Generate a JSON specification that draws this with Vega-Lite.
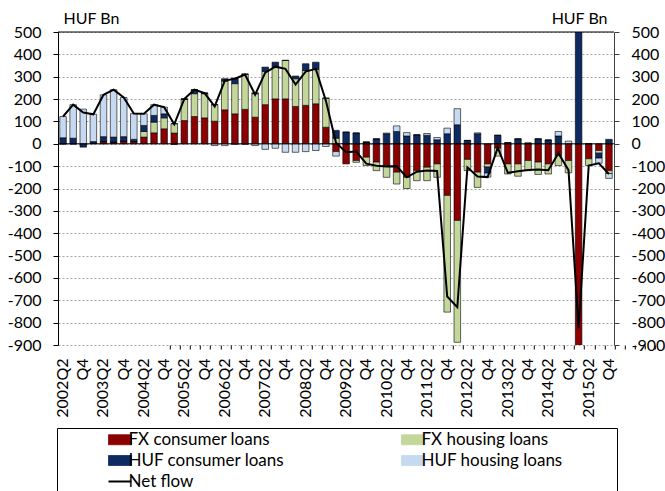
{
  "$schema": "https://vega.github.io/schema/vega-lite/v6.json",
  "width": 556,
  "height": 313,
  "autosize": {"type": "none"},
  "padding": {"left": 58, "top": 32, "right": 51, "bottom": 146},
  "config": {
    "view": {"stroke": null},
    "font": "Lato",
    "axis": {"labelFont": "Lato", "titleFont": "Lato", "labelColor": "#000", "titleColor": "#000"}
  },
  "datasets": {
    "flows": [
      {"q": "2002Q2", "FX consumer loans": 0, "FX housing loans": 0, "HUF consumer loans": 27, "HUF housing loans": 95, "net": 122},
      {"q": "2002Q3", "FX consumer loans": 0, "FX housing loans": 0, "HUF consumer loans": 25, "HUF housing loans": 150, "net": 175},
      {"q": "2002Q4", "FX consumer loans": 0, "FX housing loans": 0, "HUF consumer loans": -15, "HUF housing loans": 155, "net": 140},
      {"q": "2003Q1", "FX consumer loans": 3, "FX housing loans": 0, "HUF consumer loans": 7, "HUF housing loans": 122, "net": 132},
      {"q": "2003Q2", "FX consumer loans": 10, "FX housing loans": 0, "HUF consumer loans": 22, "HUF housing loans": 187, "net": 219},
      {"q": "2003Q3", "FX consumer loans": 8, "FX housing loans": 0, "HUF consumer loans": 22, "HUF housing loans": 212, "net": 242},
      {"q": "2003Q4", "FX consumer loans": 12, "FX housing loans": 0, "HUF consumer loans": 20, "HUF housing loans": 175, "net": 207},
      {"q": "2004Q1", "FX consumer loans": 10, "FX housing loans": 0, "HUF consumer loans": 10, "HUF housing loans": 115, "net": 135},
      {"q": "2004Q2", "FX consumer loans": 30, "FX housing loans": 25, "HUF consumer loans": 27, "HUF housing loans": 52, "net": 134},
      {"q": "2004Q3", "FX consumer loans": 49, "FX housing loans": 48, "HUF consumer loans": 30, "HUF housing loans": 48, "net": 175},
      {"q": "2004Q4", "FX consumer loans": 67, "FX housing loans": 49, "HUF consumer loans": 18, "HUF housing loans": 30, "net": 164},
      {"q": "2005Q1", "FX consumer loans": 48, "FX housing loans": 42, "HUF consumer loans": -3, "HUF housing loans": 0, "net": 87},
      {"q": "2005Q2", "FX consumer loans": 104, "FX housing loans": 94, "HUF consumer loans": 3, "HUF housing loans": 0, "net": 201},
      {"q": "2005Q3", "FX consumer loans": 122, "FX housing loans": 102, "HUF consumer loans": 18, "HUF housing loans": 0, "net": 242},
      {"q": "2005Q4", "FX consumer loans": 116, "FX housing loans": 108, "HUF consumer loans": 3, "HUF housing loans": 0, "net": 227},
      {"q": "2006Q1", "FX consumer loans": 101, "FX housing loans": 74, "HUF consumer loans": 0, "HUF housing loans": -8, "net": 167},
      {"q": "2006Q2", "FX consumer loans": 152, "FX housing loans": 128, "HUF consumer loans": 11, "HUF housing loans": -8, "net": 283},
      {"q": "2006Q3", "FX consumer loans": 134, "FX housing loans": 135, "HUF consumer loans": 25, "HUF housing loans": -3, "net": 291},
      {"q": "2006Q4", "FX consumer loans": 154, "FX housing loans": 156, "HUF consumer loans": 3, "HUF housing loans": -3, "net": 310},
      {"q": "2007Q1", "FX consumer loans": 119, "FX housing loans": 105, "HUF consumer loans": 4, "HUF housing loans": -8, "net": 220},
      {"q": "2007Q2", "FX consumer loans": 175, "FX housing loans": 149, "HUF consumer loans": 19, "HUF housing loans": -25, "net": 318},
      {"q": "2007Q3", "FX consumer loans": 201, "FX housing loans": 142, "HUF consumer loans": 22, "HUF housing loans": -20, "net": 345},
      {"q": "2007Q4", "FX consumer loans": 201, "FX housing loans": 172, "HUF consumer loans": 0, "HUF housing loans": -38, "net": 335},
      {"q": "2008Q1", "FX consumer loans": 167, "FX housing loans": 124, "HUF consumer loans": 12, "HUF housing loans": -38, "net": 265},
      {"q": "2008Q2", "FX consumer loans": 172, "FX housing loans": 156, "HUF consumer loans": 30, "HUF housing loans": -35, "net": 323},
      {"q": "2008Q3", "FX consumer loans": 179, "FX housing loans": 154, "HUF consumer loans": 32, "HUF housing loans": -30, "net": 335},
      {"q": "2008Q4", "FX consumer loans": 74, "FX housing loans": 130, "HUF consumer loans": 0, "HUF housing loans": -12, "net": 192},
      {"q": "2009Q1", "FX consumer loans": -35, "FX housing loans": 25, "HUF consumer loans": 35, "HUF housing loans": -20, "net": 5},
      {"q": "2009Q2", "FX consumer loans": -90, "FX housing loans": 0, "HUF consumer loans": 52, "HUF housing loans": 0, "net": -38},
      {"q": "2009Q3", "FX consumer loans": -75, "FX housing loans": -8, "HUF consumer loans": 48, "HUF housing loans": 0, "net": -35},
      {"q": "2009Q4", "FX consumer loans": -60, "FX housing loans": -37, "HUF consumer loans": 8, "HUF housing loans": 0, "net": -89},
      {"q": "2010Q1", "FX consumer loans": -82, "FX housing loans": -38, "HUF consumer loans": 22, "HUF housing loans": 0, "net": -98},
      {"q": "2010Q2", "FX consumer loans": -97, "FX housing loans": -53, "HUF consumer loans": 45, "HUF housing loans": 3, "net": -102},
      {"q": "2010Q3", "FX consumer loans": -127, "FX housing loans": -53, "HUF consumer loans": 55, "HUF housing loans": 25, "net": -100},
      {"q": "2010Q4", "FX consumer loans": -150, "FX housing loans": -50, "HUF consumer loans": 35, "HUF housing loans": 15, "net": -150},
      {"q": "2011Q1", "FX consumer loans": -120, "FX housing loans": -45, "HUF consumer loans": 40, "HUF housing loans": 0, "net": -125},
      {"q": "2011Q2", "FX consumer loans": -105, "FX housing loans": -60, "HUF consumer loans": 38, "HUF housing loans": 8, "net": -119},
      {"q": "2011Q3", "FX consumer loans": -90, "FX housing loans": -60, "HUF consumer loans": 18, "HUF housing loans": 10, "net": -122},
      {"q": "2011Q4", "FX consumer loans": -231, "FX housing loans": -522, "HUF consumer loans": 45, "HUF housing loans": 25, "net": -683},
      {"q": "2012Q1", "FX consumer loans": -343, "FX housing loans": -545, "HUF consumer loans": 85, "HUF housing loans": 72, "net": -731},
      {"q": "2012Q2", "FX consumer loans": -70, "FX housing loans": -50, "HUF consumer loans": 15, "HUF housing loans": 0, "net": -105},
      {"q": "2012Q3", "FX consumer loans": -127, "FX housing loans": -68, "HUF consumer loans": 45, "HUF housing loans": 4, "net": -146},
      {"q": "2012Q4", "FX consumer loans": -90, "FX housing loans": -14, "HUF consumer loans": -27, "HUF housing loans": -18, "net": -149},
      {"q": "2013Q1", "FX consumer loans": -20, "FX housing loans": -35, "HUF consumer loans": 38, "HUF housing loans": 0, "net": -17},
      {"q": "2013Q2", "FX consumer loans": -90, "FX housing loans": -45, "HUF consumer loans": 5, "HUF housing loans": 0, "net": -130},
      {"q": "2013Q3", "FX consumer loans": -90, "FX housing loans": -55, "HUF consumer loans": 22, "HUF housing loans": 0, "net": -123},
      {"q": "2013Q4", "FX consumer loans": -75, "FX housing loans": -45, "HUF consumer loans": 3, "HUF housing loans": 0, "net": -117},
      {"q": "2014Q1", "FX consumer loans": -82, "FX housing loans": -55, "HUF consumer loans": 22, "HUF housing loans": 0, "net": -115},
      {"q": "2014Q2", "FX consumer loans": -90, "FX housing loans": -45, "HUF consumer loans": 17, "HUF housing loans": 0, "net": -118},
      {"q": "2014Q3", "FX consumer loans": -52, "FX housing loans": -45, "HUF consumer loans": 35, "HUF housing loans": 20, "net": -42},
      {"q": "2014Q4", "FX consumer loans": -75, "FX housing loans": -55, "HUF consumer loans": 0, "HUF housing loans": 12, "net": -118},
      {"q": "2015Q1", "FX consumer loans": -1625, "FX housing loans": 0, "HUF consumer loans": 800, "HUF housing loans": 0, "net": -825},
      {"q": "2015Q2", "FX consumer loans": -67, "FX housing loans": -30, "HUF consumer loans": 0, "HUF housing loans": 0, "net": -97},
      {"q": "2015Q3", "FX consumer loans": -30, "FX housing loans": -12, "HUF consumer loans": -22, "HUF housing loans": -23, "net": -87},
      {"q": "2015Q4", "FX consumer loans": -120, "FX housing loans": -13, "HUF consumer loans": 20, "HUF housing loans": -22, "net": -135}
    ]
  },
  "data": {"name": "flows"},
  "layer": [
    {
      "transform": [
        {"fold": ["FX consumer loans", "FX housing loans", "HUF consumer loans", "HUF housing loans"], "as": ["series", "value"]}
      ],
      "mark": {"type": "bar", "stroke": "#000", "strokeWidth": 0.6, "clip": true},
      "encoding": {
        "x": {
          "field": "q", "type": "ordinal", "sort": null,
          "scale": {"paddingInner": 0.35, "paddingOuter": 0.175},
          "axis": {
            "orient": "bottom", "title": null, "domain": false, "ticks": false, "grid": false,
            "labelAngle": 270, "labelPadding": 13, "labelFontSize": 16, "labelOverlap": false,
            "labelExpr": "indexof(datum.value, 'Q2') > 0 ? datum.value : (indexof(datum.value, 'Q4') > 0 ? 'Q4' : '')"
          }
        },
        "y": {
          "field": "value", "type": "quantitative", "stack": "zero",
          "scale": {"domain": [-900, 500], "nice": false, "zero": false},
          "axis": {
            "orient": "left",
            "values": [-900, -800, -700, -600, -500, -400, -300, -200, -100, 0, 100, 200, 300, 400, 500],
            "labelExpr": "'' + datum.value",
            "grid": true, "gridDash": [2, 2], "gridColor": "#a6a6a6", "gridWidth": 1,
            "domainColor": "#000", "tickColor": "#000", "tickSize": 5, "labelPadding": 12, "labelFontSize": 16,
            "title": "HUF Bn", "titleAngle": 0, "titleAlign": "left", "titleBaseline": "alphabetic",
            "titleX": 5, "titleY": -9, "titleFontSize": 16, "titleFontWeight": "normal"
          }
        },
        "color": {
          "field": "series", "type": "nominal",
          "scale": {
            "domain": ["FX consumer loans", "FX housing loans", "HUF consumer loans", "HUF housing loans", "Net flow"],
            "range": ["#8b0000", "#c4d79b", "#0d2a63", "#c5d9f1", "#000000"]
          },
          "legend": {
            "orient": "none", "legendX": -1, "legendY": 396, "direction": "horizontal",
            "columns": 2, "columnPadding": 68, "rowPadding": 3, "padding": 3,
            "strokeColor": "#000", "fillColor": "#fff",
            "labelFont": "Lato", "labelFontSize": 17, "labelColor": "#000", "labelLimit": 300,
            "symbolSize": 100, "symbolOffset": 51.5, "labelOffset": 0,
            "symbolStrokeColor": "#000", "symbolStrokeWidth": 0.8,
            "title": " ", "titleOrient": "right", "titlePadding": 51,
            "encode": {
              "symbols": {
                "update": {
                  "shape": {"signal": "datum.label === 'Net flow' ? 'M-2.3,0H2.3' : 'M-2.3,-1H2.3V1H-2.3Z'"},
                  "strokeWidth": {"signal": "datum.label === 'Net flow' ? 2 : 0.8"}
                }
              }
            }
          }
        },
        "order": {"field": "series", "sort": "ascending"}
      }
    },
    {
      "data": {"values": [{"v": 0}, {"v": 500}]},
      "mark": {"type": "rule", "color": "#000", "strokeWidth": 1},
      "encoding": {"y": {"field": "v", "type": "quantitative", "axis": null}}
    },
    {
      "mark": {"type": "line", "strokeWidth": 2, "clip": true},
      "encoding": {
        "x": {
          "field": "q", "type": "ordinal", "sort": null,
          "axis": {
            "orient": "bottom", "position": 111.79, "title": null, "labels": false, "domain": false, "grid": false,
            "ticks": true, "tickSize": 4, "tickColor": "#000", "bandPosition": 0.5, "tickOffset": -5.05
          }
        },
        "y": {
          "field": "net", "type": "quantitative",
          "axis": {
            "orient": "right",
            "values": [-900, -800, -700, -600, -500, -400, -300, -200, -100, 0, 100, 200, 300, 400, 500],
            "labelExpr": "'' + datum.value",
            "grid": false, "domainColor": "#404040", "tickColor": "#404040", "tickSize": 5, "labelPadding": 12, "labelFontSize": 16,
            "title": "HUF Bn", "titleAngle": 0, "titleAlign": "right", "titleBaseline": "alphabetic",
            "titleX": -7, "titleY": -9, "titleFontSize": 16, "titleFontWeight": "normal"
          }
        },
        "color": {"datum": "Net flow", "legend": null}
      }
    }
  ],
  "resolve": {"axis": {"x": "independent", "y": "independent"}}
}
